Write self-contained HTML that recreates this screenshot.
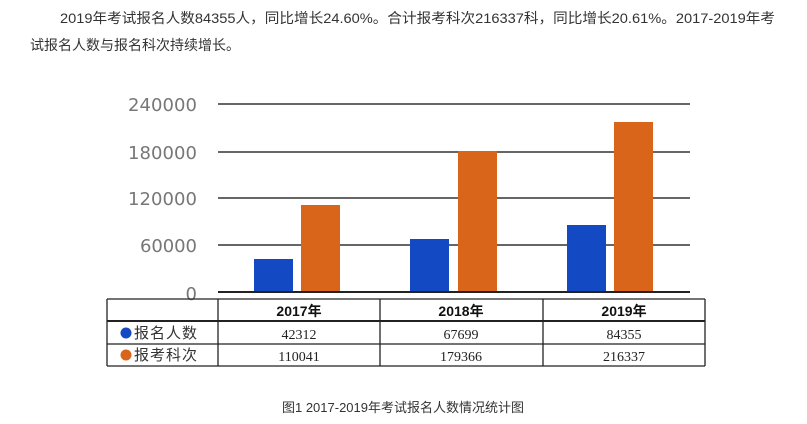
<!DOCTYPE html>
<html><head><meta charset="utf-8"><style>
html,body{margin:0;padding:0;background:#fff;width:807px;height:424px;overflow:hidden}
svg{display:block}
</style></head><body>
<svg width="807" height="424" xmlns="http://www.w3.org/2000/svg" font-family="Liberation Sans, Noto Sans CJK SC, sans-serif">
<text x="60" y="23" font-size="14" fill="#333" textLength="715" lengthAdjust="spacingAndGlyphs">2019年考试报名人数84355人，同比增长24.60%。合计报考科次216337科，同比增长20.61%。2017-2019年考</text>
<text x="30" y="50" font-size="14" fill="#333">试报名人数与报名科次持续增长。</text>
<g stroke="#666" stroke-width="2">
<line x1="218" y1="104" x2="690" y2="104"/>
<line x1="218" y1="152" x2="690" y2="152"/>
<line x1="218" y1="198" x2="690" y2="198"/>
<line x1="218" y1="245" x2="690" y2="245"/>
</g>
<g font-size="18" fill="#777" text-anchor="end" font-family="DejaVu Sans, Liberation Sans, sans-serif">
<text x="197" y="111" textLength="69">240000</text>
<text x="197" y="159" textLength="69">180000</text>
<text x="197" y="205" textLength="69">120000</text>
<text x="197" y="252" textLength="57">60000</text>
<text x="197" y="300">0</text>
</g>
<rect x="254" y="259" width="39" height="33" fill="#1449c4"/>
<rect x="301" y="205" width="39" height="87" fill="#d9651a"/>
<rect x="410" y="239" width="39" height="53" fill="#1449c4"/>
<rect x="458" y="151" width="39" height="141" fill="#d9651a"/>
<rect x="567" y="225" width="39" height="67" fill="#1449c4"/>
<rect x="614" y="122" width="39" height="170" fill="#d9651a"/>
<line x1="218" y1="292" x2="690" y2="292" stroke="#222" stroke-width="2"/>
<g stroke="#222" stroke-width="1.3" fill="none">
<line x1="107" y1="299" x2="705" y2="299"/>
<line x1="107" y1="321" x2="705" y2="321" stroke-width="2"/>
<line x1="107" y1="344" x2="705" y2="344"/>
<line x1="107" y1="366" x2="705" y2="366"/>
<line x1="107" y1="299" x2="107" y2="366"/>
<line x1="218" y1="299" x2="218" y2="366"/>
<line x1="380" y1="299" x2="380" y2="366"/>
<line x1="543" y1="299" x2="543" y2="366"/>
<line x1="705" y1="299" x2="705" y2="366"/>
</g>
<g font-size="14" fill="#111" text-anchor="middle" font-weight="bold">
<text x="299" y="316">2017年</text><text x="461" y="316">2018年</text><text x="624" y="316">2019年</text>
</g>
<g font-size="14" fill="#222" text-anchor="middle" font-family="Liberation Serif, serif">
<text x="299" y="339">42312</text><text x="461" y="339">67699</text><text x="624" y="339">84355</text>
<text x="299" y="361">110041</text><text x="461" y="361">179366</text><text x="624" y="361">216337</text>
</g>
<circle cx="126" cy="333" r="5.5" fill="#1449c4"/>
<circle cx="126" cy="355" r="5.5" fill="#d9651a"/>
<g font-size="15" fill="#333" letter-spacing="1">
<text x="134" y="338">报名人数</text>
<text x="134" y="360">报考科次</text>
</g>
<text x="403" y="412" font-size="13" fill="#333" text-anchor="middle">图1  2017-2019年考试报名人数情况统计图</text>
</svg>
</body></html>
